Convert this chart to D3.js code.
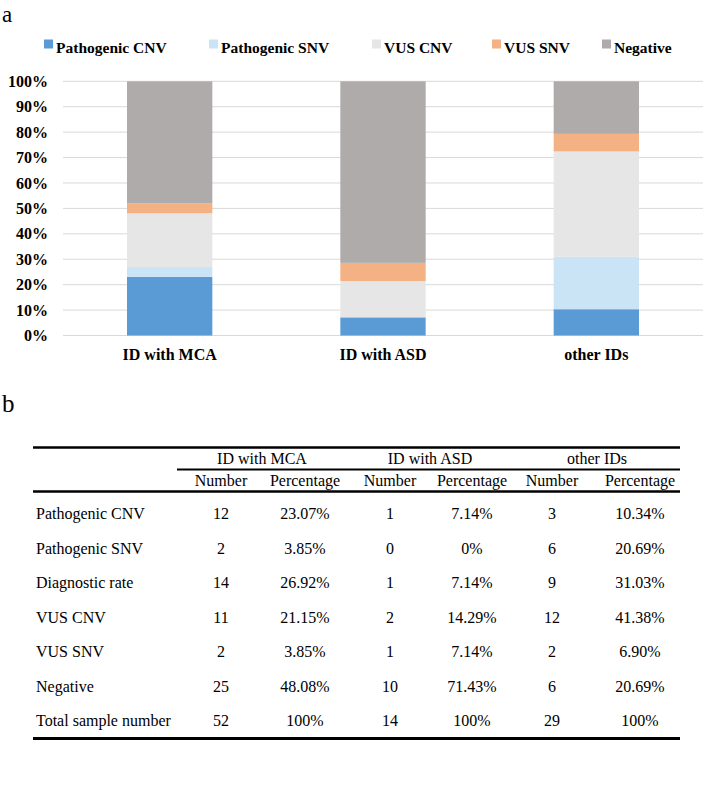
<!DOCTYPE html>
<html>
<head>
<meta charset="utf-8">
<script src="https://cdn.jsdelivr.net/npm/d3@7"></script>
<style>
  html, body { margin: 0; padding: 0; background: #fff; }
  svg { display: block; }
  text { font-family: "Liberation Serif", "Times New Roman", serif; }
</style>
</head>
<body>
<svg id="chart" width="709" height="785"></svg>
<script>
// ---------- data ----------
const categories = ["ID with MCA", "ID with ASD", "other IDs"];
const seriesNames = ["Pathogenic CNV", "Pathogenic SNV", "VUS CNV", "VUS SNV", "Negative"];
const pathogenicCNV = [23.07, 7.14, 10.34];
const pathogenicSNV = [3.85, 0, 20.69];
const vusCNV = [21.15, 14.29, 41.38];
const vusSNV = [3.85, 7.14, 6.90];
const negative = [48.08, 71.43, 20.69];
const yTicks = [0, 10, 20, 30, 40, 50, 60, 70, 80, 90, 100];

const rowLabels = ["Pathogenic CNV", "Pathogenic SNV", "Diagnostic rate", "VUS CNV", "VUS SNV", "Negative", "Total sample number"];
const countMCA = ["12", "2", "14", "11", "2", "25", "52"];
const pctMCA = ["23.07%", "3.85%", "26.92%", "21.15%", "3.85%", "48.08%", "100%"];
const countASD = ["1", "0", "1", "2", "1", "10", "14"];
const pctASD = ["7.14%", "0%", "7.14%", "14.29%", "7.14%", "71.43%", "100%"];
const countOther = ["3", "6", "9", "12", "2", "6", "29"];
const pctOther = ["10.34%", "20.69%", "31.03%", "41.38%", "6.90%", "20.69%", "100%"];
const subHeaders = ["Number", "Percentage"];

// ---------- styles ----------
const colors = ["#5B9BD5", "#CAE4F6", "#E6E6E6", "#F4B183", "#AEABAA"];
const svg = d3.select("#chart");

// ---------- panel labels ----------
svg.append("text").attr("x", 2).attr("y", 22).attr("font-size", 23).text("a");
svg.append("text").attr("x", 2).attr("y", 412).attr("font-size", 25).text("b");

// ---------- legend ----------
const legendX = [44, 209, 372, 492, 602];
const lg = svg.append("g");
seriesNames.forEach((name, i) => {
  lg.append("rect").attr("x", legendX[i]).attr("y", 39.5).attr("width", 9).attr("height", 9).attr("fill", colors[i]);
  lg.append("text").attr("x", legendX[i] + 12).attr("y", 53)
    .attr("font-size", 15.5).attr("font-weight", "bold").attr("fill", "#000").text(name);
});

// ---------- bar chart ----------
const x = d3.scaleBand().domain(categories).range([63, 703]).paddingInner(0.6).paddingOuter(0.3);
const y = d3.scaleLinear().domain([0, 100]).range([335.5, 81.3]);

// gridlines
svg.append("g").selectAll("line").data(yTicks).join("line")
  .attr("x1", 63).attr("x2", 703)
  .attr("y1", d => y(d)).attr("y2", d => y(d))
  .attr("stroke", "#D9D9D9").attr("stroke-width", 1);

// y axis labels
const yAxis = d3.axisLeft(y).tickValues(yTicks).tickFormat(d => d + "%").tickSize(0).tickPadding(0);
const yg = svg.append("g").attr("transform", "translate(48,0)").call(yAxis);
yg.select(".domain").remove();
yg.selectAll("text").attr("font-family", "Liberation Serif, Times New Roman, serif")
  .attr("font-size", 16).attr("font-weight", "bold").attr("fill", "#000");

// stacked data
const table = categories.map((c, i) => ({
  cat: c,
  "Pathogenic CNV": pathogenicCNV[i],
  "Pathogenic SNV": pathogenicSNV[i],
  "VUS CNV": vusCNV[i],
  "VUS SNV": vusSNV[i],
  "Negative": negative[i]
}));
const stack = d3.stack().keys(seriesNames)(table);
svg.append("g").selectAll("g").data(stack).join("g")
  .attr("fill", (d, i) => colors[i])
  .selectAll("rect").data(d => d).join("rect")
  .attr("x", d => x(d.data.cat))
  .attr("width", x.bandwidth())
  .attr("y", d => y(Math.min(d[1], 100)))
  .attr("height", d => Math.max(0, y(d[0]) - y(Math.min(d[1], 100))));

// x axis labels
const xAxis = d3.axisBottom(x).tickSize(0).tickPadding(0);
const xg = svg.append("g").attr("transform", "translate(0,348)").call(xAxis);
xg.select(".domain").remove();
xg.selectAll("text").attr("font-family", "Liberation Serif, Times New Roman, serif")
  .attr("font-size", 16).attr("font-weight", "bold").attr("fill", "#000").attr("dy", "0.75em");

// ---------- table ----------
const tg = svg.append("g").attr("font-size", 16).attr("fill", "#000");
const colX = d3.scaleOrdinal().domain([0, 1, 2, 3, 4, 5]).range([221, 305, 390, 472, 552, 640]);
const groupX = [262, 430, 597];
const rowY = d3.scalePoint().domain(rowLabels).range([519, 726]);

// lines
const hlines = [
  { x1: 33, x2: 680, y: 447.5, w: 2.5 },
  { x1: 177, x2: 680, y: 469.5, w: 2 },
  { x1: 33, x2: 680, y: 491.5, w: 2.5 },
  { x1: 33, x2: 680, y: 738.5, w: 3 }
];
tg.selectAll("line").data(hlines).join("line")
  .attr("x1", d => d.x1).attr("x2", d => d.x2)
  .attr("y1", d => d.y).attr("y2", d => d.y)
  .attr("stroke", "#000").attr("stroke-width", d => d.w);

// group headers
categories.forEach((c, i) => {
  tg.append("text").attr("x", groupX[i]).attr("y", 464).attr("text-anchor", "middle").text(c);
});
// sub headers
for (let i = 0; i < 6; i++) {
  tg.append("text").attr("x", colX(i)).attr("y", 486).attr("text-anchor", "middle").text(subHeaders[i % 2]);
}
// rows
const cols = [countMCA, pctMCA, countASD, pctASD, countOther, pctOther];
rowLabels.forEach((r, ri) => {
  tg.append("text").attr("x", 36).attr("y", rowY(r)).text(r);
  cols.forEach((col, ci) => {
    tg.append("text").attr("x", colX(ci)).attr("y", rowY(r)).attr("text-anchor", "middle").text(col[ri]);
  });
});
</script>
</body>
</html>
